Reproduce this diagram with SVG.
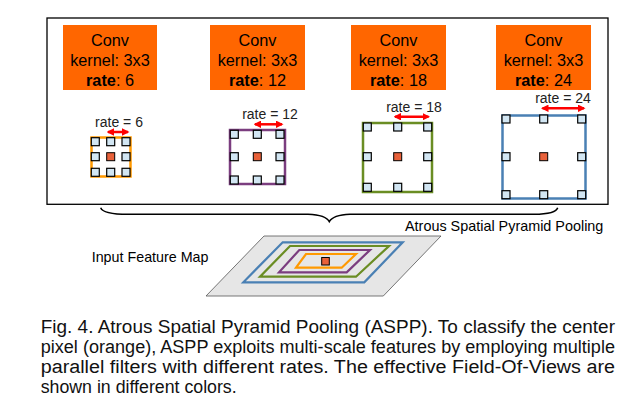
<svg xmlns="http://www.w3.org/2000/svg" width="634" height="417" viewBox="0 0 634 417">
<defs>
<style>
.t{font-family:"Liberation Sans",Arial,sans-serif;fill:#000}
.conv{fill:#ff6600}
.ct{font-size:16.3px;text-anchor:middle}
.lbl{font-size:14px;text-anchor:middle;fill:#222}
.px{fill:#d2e6f3;stroke:#000;stroke-width:1.2}
.cx{fill:#e8613a;stroke:#000;stroke-width:1}
.arr{stroke:#ff0000;stroke-width:2.5;fill:none;marker-start:url(#ah);marker-end:url(#ah)}
.fm{fill:none;stroke-width:2.5}
.cap{font-size:18px;fill:#111}
</style>
<marker id="ah" viewBox="0 0 10 10" refX="8" refY="5" markerWidth="3" markerHeight="3" orient="auto-start-reverse" markerUnits="strokeWidth">
<path d="M0,0 L10,5 L0,10 z" fill="#ff0000"/>
</marker>
</defs>
<rect width="634" height="417" fill="#fff"/>
<rect id="frame" x="47" y="18" width="561" height="186.3" fill="none" stroke="#000" stroke-width="1.3"/>

<g id="conv6">
<rect class="conv" x="63" y="25" width="94" height="65"/>
<text class="t ct" x="110" y="46">Conv</text>
<text class="t ct" x="110" y="66">kernel: 3x3</text>
<text class="t ct" x="110" y="86"><tspan font-weight="bold">rate</tspan>: 6</text>
</g>
<g id="conv12">
<rect class="conv" x="210" y="25" width="95" height="65"/>
<text class="t ct" x="257.5" y="46">Conv</text>
<text class="t ct" x="257.5" y="66">kernel: 3x3</text>
<text class="t ct" x="257.5" y="86"><tspan font-weight="bold">rate</tspan>: 12</text>
</g>
<g id="conv18">
<rect class="conv" x="351" y="25" width="95" height="65"/>
<text class="t ct" x="398.5" y="46">Conv</text>
<text class="t ct" x="398.5" y="66">kernel: 3x3</text>
<text class="t ct" x="398.5" y="86"><tspan font-weight="bold">rate</tspan>: 18</text>
</g>
<g id="conv24">
<rect class="conv" x="496" y="25" width="95" height="65"/>
<text class="t ct" x="543.5" y="46">Conv</text>
<text class="t ct" x="543.5" y="66">kernel: 3x3</text>
<text class="t ct" x="543.5" y="86"><tspan font-weight="bold">rate</tspan>: 24</text>
</g>

<g id="filter6">
<text class="t lbl" x="119" y="126.5">rate = 6</text>
<line class="arr" x1="108" y1="132" x2="128" y2="132"/>
<rect class="fm" x="91.5" y="137.5" width="39" height="39" stroke="#ff9900" stroke-width="3"/>
<rect class="px" x="91.3" y="137.7" width="8" height="8"/><rect class="px" x="106.7" y="137.7" width="8" height="8"/><rect class="px" x="122" y="137.7" width="8" height="8"/>
<rect class="px" x="91.3" y="152.7" width="8" height="8"/><rect class="cx" x="106.7" y="152.7" width="8" height="8"/><rect class="px" x="122" y="152.7" width="8" height="8"/>
<rect class="px" x="91.3" y="168.3" width="8" height="8"/><rect class="px" x="106.7" y="168.3" width="8" height="8"/><rect class="px" x="122" y="168.3" width="8" height="8"/>
</g>
<g id="filter12">
<text class="t lbl" x="270" y="119">rate = 12</text>
<line class="arr" x1="255" y1="124.3" x2="282" y2="124.3"/>
<rect class="fm" x="230" y="130" width="55" height="54" stroke="#7b3d7f"/>
<rect class="px" x="230.3" y="130.3" width="8" height="8"/><rect class="px" x="253.3" y="130.3" width="8" height="8"/><rect class="px" x="276" y="130.3" width="8" height="8"/>
<rect class="px" x="230.3" y="152.7" width="8" height="8"/><rect class="cx" x="253.3" y="152.7" width="8" height="8"/><rect class="px" x="276" y="152.7" width="8" height="8"/>
<rect class="px" x="230.3" y="176" width="8" height="8"/><rect class="px" x="253.3" y="176" width="8" height="8"/><rect class="px" x="276" y="176" width="8" height="8"/>
</g>
<g id="filter18">
<text class="t lbl" x="414" y="111.7">rate = 18</text>
<line class="arr" x1="395" y1="116.7" x2="428.5" y2="116.7"/>
<rect class="fm" x="363" y="123" width="69" height="69" stroke="#6a8d23"/>
<rect class="px" x="363.3" y="123" width="8" height="8"/><rect class="px" x="393.7" y="123" width="8" height="8"/><rect class="px" x="423.7" y="123" width="8" height="8"/>
<rect class="px" x="363.3" y="152.7" width="8" height="8"/><rect class="cx" x="393.7" y="152.7" width="8" height="8"/><rect class="px" x="423.7" y="152.7" width="8" height="8"/>
<rect class="px" x="363.3" y="183.3" width="8" height="8"/><rect class="px" x="393.7" y="183.3" width="8" height="8"/><rect class="px" x="423.7" y="183.3" width="8" height="8"/>
</g>
<g id="filter24">
<text class="t lbl" x="563" y="102.7">rate = 24</text>
<line class="arr" x1="542.5" y1="108.3" x2="584" y2="108.3"/>
<rect class="fm" x="502.5" y="115.5" width="83" height="83" stroke="#4a80b4"/>
<rect class="px" x="502" y="115" width="8" height="8"/><rect class="px" x="539.7" y="115" width="8" height="8"/><rect class="px" x="577.7" y="115" width="8" height="8"/>
<rect class="px" x="502" y="152.7" width="8" height="8"/><rect class="cx" x="539.7" y="152.7" width="8" height="8"/><rect class="px" x="577.7" y="152.7" width="8" height="8"/>
<rect class="px" x="502" y="190.7" width="8" height="8"/><rect class="px" x="539.7" y="190.7" width="8" height="8"/><rect class="px" x="577.7" y="190.7" width="8" height="8"/>
</g>

<g id="connectors">
<path d="M100.7,207.7 Q103,214.3 128,214.3 L308,214.3 Q326,215 329.3,221.7 Q333,215 350,214.3 L534,214.3 Q556,214 557.7,207.7" fill="none" stroke="#000" stroke-width="1.5"/>
</g>

<g id="aspp-label">
<text class="t" x="405" y="231" font-size="14.4px" fill="#222">Atrous Spatial Pyramid Pooling</text>
</g>

<g id="input-map">
<text class="t" x="91.7" y="261.7" font-size="14.3px" fill="#222">Input Feature Map</text>
<polygon points="264,236 441,236 383.3,296 206,296" fill="#e6e6e6" stroke="#555" stroke-width="0.8"/>
<polygon points="282.7,242.3 402.7,242.3 364.3,282.3 243.3,282.3" fill="none" stroke="#4a80b4" stroke-width="2.2"/>
<polygon points="290,246 389,246 356,276.7 260,276.7" fill="none" stroke="#6a8d23" stroke-width="2.2"/>
<polygon points="299.3,250 370,250 346.7,272.3 279,272.3" fill="none" stroke="#7b3d7f" stroke-width="2.2"/>
<polygon points="306,254 356,254 341.7,267.7 296,267.7" fill="none" stroke="#ff9900" stroke-width="2.2"/>
<rect x="321.7" y="257.5" width="7.6" height="7.5" fill="#e8613a" stroke="#000" stroke-width="1"/>
</g>

<g id="caption">
<text class="t cap" x="40.7" y="332.7" textLength="574.3" lengthAdjust="spacingAndGlyphs">Fig. 4. Atrous Spatial Pyramid Pooling (ASPP). To classify the center</text>
<text class="t cap" x="40.7" y="352.7" textLength="574.3" lengthAdjust="spacingAndGlyphs">pixel (orange), ASPP exploits multi-scale features by employing multiple</text>
<text class="t cap" x="40.7" y="372.9" textLength="574.3" lengthAdjust="spacingAndGlyphs">parallel filters with different rates. The effective Field-Of-Views are</text>
<text class="t cap" x="40.7" y="392.5" textLength="196" lengthAdjust="spacingAndGlyphs">shown in different colors.</text>
</g>
</svg>
